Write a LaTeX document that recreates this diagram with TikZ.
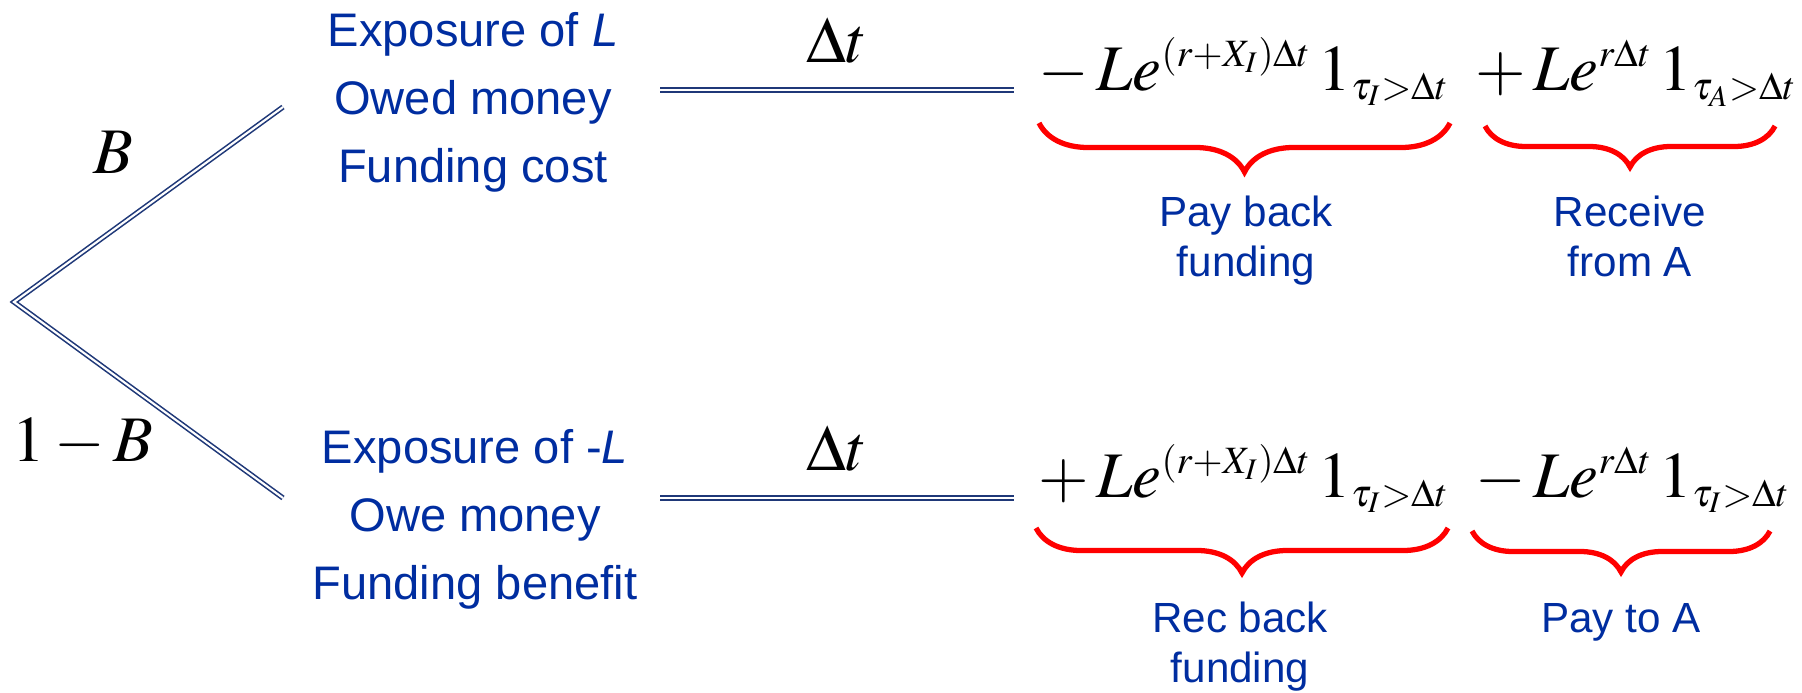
\documentclass[tikz,border=0pt]{standalone}
\usepackage{mathptmx}
\usepackage[no-math]{fontspec}
\setmainfont{Liberation Sans}
\DeclareMathSizes{18.5}{18.5}{11}{8.5}
\usetikzlibrary{positioning, decorations.pathreplacing}
\definecolor{treeblue}{RGB}{31, 56, 120}
\definecolor{textblue}{RGB}{0, 45, 160}
\definecolor{bracered}{RGB}{255, 0, 0}

\begin{document}
\begin{tikzpicture}[
  branch/.style={draw=treeblue, double=white, line width=0.45pt, double distance=0.6pt},
  infobox/.style={text=textblue, align=center, inner sep=0pt, font=\fontsize{13.4}{19.4}\selectfont},
  problabel/.style={inner sep=0pt, font=\fontsize{18.5}{22}\selectfont},
  steplabel/.style={anchor=base, inner sep=0pt, font=\fontsize{18.5}{22}\selectfont},
  cashflow/.style={anchor=base west, inner sep=0pt, font=\fontsize{18.5}{22}\selectfont},
  fbrace/.style={draw=bracered, line width=1.5pt, decorate, decoration={brace, mirror, amplitude=#1}},
  note/.style={text=textblue, align=center, inner sep=0pt, font=\fontsize{12}{14.2}\selectfont}
]
  \useasboundingbox (0, 0) rectangle (18.02, 6.92);

  % tree
  \coordinate (root) at (0.14, 3.90);
  \coordinate (upend) at (2.83, 5.85);
  \coordinate (loend) at (2.83, 1.94);
  \draw[branch] (upend) -- (root) -- (loend);
  \node[problabel] (pB) at (1.13, 5.40) {$B$};
  \node[problabel] (pnotB) at (0.83, 2.50) {$1-B$};

  % states
  \node[infobox] (lend) at (4.73, 5.895) {Exposure of \textit{L}\\Owed money\\Funding cost};
  \node[infobox] (borrow) at (4.75, 1.725) {Exposure of -\textit{L}\\Owe money\\Funding benefit};

  % time step
  \coordinate (upl) at (6.60, 6.02);
  \coordinate (upr) at (10.14, 6.02);
  \coordinate (lol) at (6.60, 1.94);
  \coordinate (lor) at (10.14, 1.94);
  \draw[branch] (upl) -- (upr);
  \draw[branch] (lol) -- (lor);
  \node[steplabel] (dtup) at (8.37, 6.30) {$\Delta t$};
  \node[steplabel] (dtlo) at (8.37, 2.22) {$\Delta t$};

  % cash flows
  \node[cashflow] (payfund) at (10.38, 6.02) {$-\,Le^{(r+X_I)\Delta t}\,1_{\tau_I>\Delta t}$};
  \node[cashflow] (recA) at (14.75, 6.02) {$+\,Le^{r\Delta t}\,1_{\tau_A>\Delta t}$};
  \node[cashflow] (recfund) at (10.38, 1.95) {$+\,Le^{(r+X_I)\Delta t}\,1_{\tau_I>\Delta t}$};
  \node[cashflow] (payA) at (14.75, 1.95) {$-\,Le^{r\Delta t}\,1_{\tau_I>\Delta t}$};

  \draw[fbrace=0.49cm] (10.39, 5.69) -- (14.50, 5.69);
  \draw[fbrace=0.41cm] (14.85, 5.66) -- (17.75, 5.66);
  \draw[fbrace=0.45cm] (10.36, 1.64) -- (14.48, 1.64);
  \draw[fbrace=0.41cm] (14.72, 1.61) -- (17.70, 1.61);

  \node[note] (payback) at (12.46, 4.51) {Pay back\\funding};
  \node[note] (recvfrom) at (16.30, 4.555) {Receive\\from A};
  \node[note] (recback) at (12.40, 0.45) {Rec back\\funding};
  \node[note] (payto) at (16.21, 0.695) {Pay to A};
\end{tikzpicture}
\end{document}
